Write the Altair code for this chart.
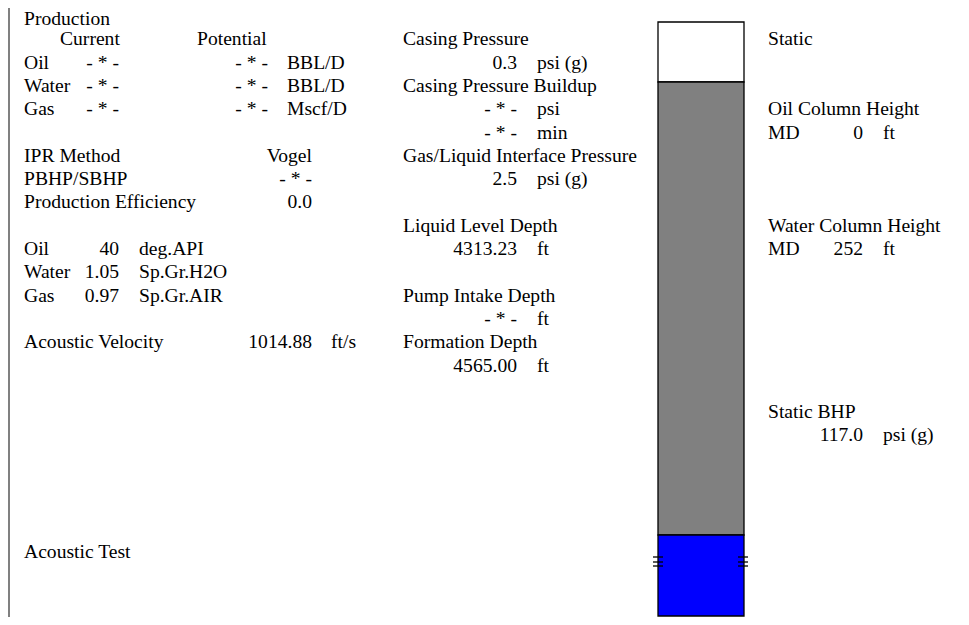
import altair as alt
import pandas as pd

FONT = "Liberation Serif"
FS = 19.6

# ---------------- data values ----------------
prod_fluids = ["Oil", "Water", "Gas"]
prod_current = ["- * -", "- * -", "- * -"]
prod_potential = ["- * -", "- * -", "- * -"]
prod_units = ["BBL/D", "BBL/D", "Mscf/D"]

ipr_labels = ["IPR Method", "PBHP/SBHP", "Production Efficiency"]
ipr_values = ["Vogel", "- * -", "0.0"]

fluid_names = ["Oil", "Water", "Gas"]
fluid_values = ["40", "1.05", "0.97"]
fluid_units = ["deg.API", "Sp.Gr.H2O", "Sp.Gr.AIR"]

acoustic_velocity = "1014.88"

mid_labels = ["Casing Pressure", "Casing Pressure Buildup", "",
              "Gas/Liquid Interface Pressure", "Liquid Level Depth",
              "Pump Intake Depth", "Formation Depth"]
mid_values = ["0.3", "- * -", "- * -", "2.5", "4313.23", "- * -", "4565.00"]
mid_units = ["psi (g)", "psi", "min", "psi (g)", "ft", "ft", "ft"]

oil_column_md = "0"
water_column_md = "252"
static_bhp = "117.0"

# well schematic (display depth units)
well_segments = ["Gas", "Liquid", "Water"]
well_tops = [0, 60, 513]
well_bottoms = [60, 513, 594]
well_fills = ["#ffffff", "#808080", "#0000ff"]
perf_marks = [535, 540, 544]

# ---------------- layout ----------------
ROW0_Y, ROW_H = 16.0, 23.3          # page y of row 0, row spacing
XL, XCUR, XPOT = 24, 60, 197
XCUR_V, XPOT_V, XUNIT = 119, 268, 287
XIPR_V, XAV_U, XFL_U = 312, 331, 139
XM, XM_V, XM_U = 403, 517, 537
XR, XR_V, XR_U = 768, 863, 883
WELL_X0, WELL_X1 = 658, 744
PERF_L, PERF_R = (653, 663), (738, 748)
WELL_TOP_Y = 22

items = []
def add(text, row, x, align):
    items.append(dict(text=text, row=row, x=x, align=align))

add("Production", 0.12, XL, "left")
add("Current", 1, XCUR, "left")
add("Potential", 1, XPOT, "left")
for i, f in enumerate(prod_fluids):
    add(f, 2 + i, XL, "left")
    add(prod_current[i], 2 + i, XCUR_V, "right")
    add(prod_potential[i], 2 + i, XPOT_V, "right")
    add(prod_units[i], 2 + i, XUNIT, "left")
for i, lab in enumerate(ipr_labels):
    add(lab, 6 + i, XL, "left")
    add(ipr_values[i], 6 + i, XIPR_V, "right")
for i, f in enumerate(fluid_names):
    add(f, 10 + i, XL, "left")
    add(fluid_values[i], 10 + i, XCUR_V, "right")
    add(fluid_units[i], 10 + i, XFL_U, "left")
add("Acoustic Velocity", 14, XL, "left")
add(acoustic_velocity, 14, XIPR_V, "right")
add("ft/s", 14, XAV_U, "left")
add("Acoustic Test", 23, XL, "left")

# middle column
mid_label_rows = [1, 3, None, 6, 9, 12, 14]
mid_value_rows = [2, 4, 5, 7, 10, 13, 15]
for lab, r in zip(mid_labels, mid_label_rows):
    if r is not None:
        add(lab, r, XM, "left")
for v, u, r in zip(mid_values, mid_units, mid_value_rows):
    add(v, r, XM_V, "right")
    add(u, r, XM_U, "left")

# right column
add("Static", 1, XR, "left")
add("Oil Column Height", 4, XR, "left")
add("MD", 5, XR, "left")
add(oil_column_md, 5, XR_V, "right")
add("ft", 5, XR_U, "left")
add("Water Column Height", 9, XR, "left")
add("MD", 10, XR, "left")
add(water_column_md, 10, XR_V, "right")
add("ft", 10, XR_U, "left")
add("Static BHP", 17, XR, "left")
add(static_bhp, 18, XR_V, "right")
add("psi (g)", 18, XR_U, "left")

txt = pd.DataFrame(items)

W, H = 953, 609
xs = alt.Scale(domain=[8, 8 + W])
ys = alt.Scale(domain=[(8 - ROW0_Y) / ROW_H, (8 + H - ROW0_Y) / ROW_H], reverse=True)
ws = alt.Scale(domain=[8 - WELL_TOP_Y, 8 + H - WELL_TOP_Y], reverse=True)

def text_layer(align):
    return alt.Chart(txt).transform_filter(alt.datum.align == align).mark_text(
        align=align, baseline="middle", font=FONT, fontSize=FS, color="black"
    ).encode(
        x=alt.X("x:Q", scale=xs, axis=None),
        y=alt.Y("row:Q", scale=ys, axis=None),
        text="text:N",
    )

well_df = pd.DataFrame(dict(seg=well_segments, top=well_tops, bottom=well_bottoms,
                            fill=well_fills, x0=WELL_X0, x1=WELL_X1))
well = alt.Chart(well_df).mark_rect(stroke="black", strokeWidth=1.3).encode(
    x=alt.X("x0:Q", scale=xs, axis=None), x2="x1:Q",
    y=alt.Y("top:Q", scale=ws, axis=None), y2="bottom:Q",
    fill=alt.Fill("fill:N", scale=None),
)

perf_rows = []
for d in perf_marks:
    for (a, b) in (PERF_L, PERF_R):
        perf_rows.append(dict(d=d, xa=a, xb=b))
perf = alt.Chart(pd.DataFrame(perf_rows)).mark_rule(color="black", strokeWidth=1.3).encode(
    x=alt.X("xa:Q", scale=xs, axis=None), x2="xb:Q",
    y=alt.Y("d:Q", scale=ws, axis=None),
)

border = alt.Chart(pd.DataFrame(dict(x=[9]))).mark_rule(color="#808080", strokeWidth=2).encode(
    x=alt.X("x:Q", scale=xs, axis=None), y=alt.value(0), y2=alt.value(H)
)

chart = alt.layer(border, well, perf, text_layer("left"), text_layer("right")).resolve_scale(
    y="independent"
).properties(
    width=W, height=H, autosize=alt.AutoSizeParams(type="none"), padding=0,
    background="white"
).configure_view(stroke=None)

chart.save("out.html", embed_options={"renderer": "svg", "actions": False})
